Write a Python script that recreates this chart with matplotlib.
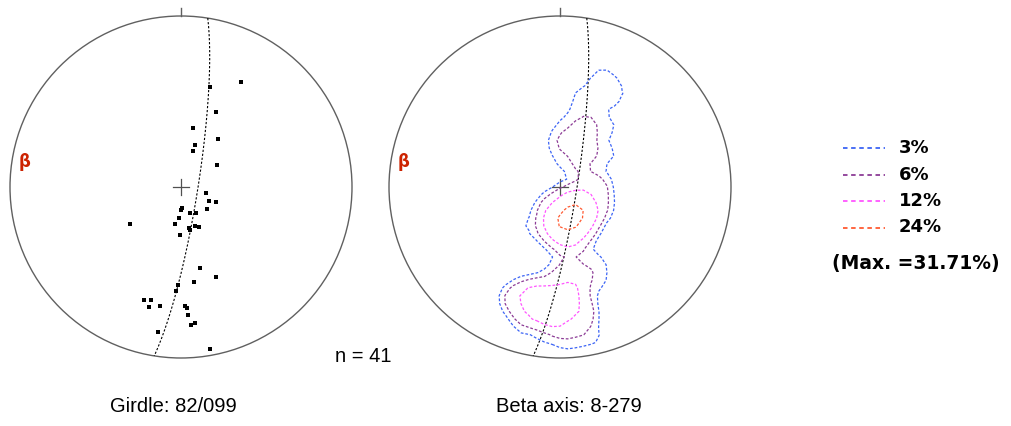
import numpy as np
import matplotlib.pyplot as plt
from matplotlib.patches import Circle

# lineations, lower hemisphere (trend / plunge in degrees)
trend = [30, 16, 25, 11, 38, 19, 18, 59, 103, 116, 113, 177, 181, 161, 150,
         130, 184, 234, 189, 169, 168, 160, 156, 181, 167, 159, 172, 182, 183,
         198, 195, 195, 190, 190, 178, 177, 177, 174, 176, 189, 170]
plunge = [30, 39, 50, 61, 61, 69, 72, 70, 78, 75, 72, 80, 79, 77, 76,
          74, 75, 60, 72, 70, 69, 70, 69, 67, 50, 43, 43, 42, 39,
          31, 32, 28, 30, 30, 31, 30, 26, 21, 20, 15, 4]

girdle_dip, girdle_dipdir = 82, 99
beta_plunge, beta_trend = 8, 279

levels = [3, 6, 12, 24]
level_labels = ['3%', '6%', '12%', '24%']
level_colors = ['#3c64f5', '#8c3c96', '#ff55ff', '#ff5a32']
max_pct = 31.71

W, H = 1011, 426
R = 171  # net radius in pixels


def project(tr, pl):
    # Schmidt (equal-area) projection
    tr = np.radians(np.asarray(tr, float))
    pl = np.radians(np.asarray(pl, float))
    r = np.sqrt(2) * np.sin((np.pi / 2 - pl) / 2)
    return r * np.sin(tr), r * np.cos(tr)


def to_vec(tr, pl):
    tr = np.radians(np.asarray(tr, float))
    pl = np.radians(np.asarray(pl, float))
    return np.stack([np.cos(pl) * np.sin(tr), np.cos(pl) * np.cos(tr), -np.sin(pl)], -1)


def great_circle(dip, dipdir):
    t = np.radians(np.linspace(0, 180, 200))
    s = np.radians(dipdir - 90)
    d = np.radians(dipdir)
    strike_v = np.array([np.sin(s), np.cos(s), 0])
    dip_v = np.array([np.cos(np.radians(dip)) * np.sin(d),
                      np.cos(np.radians(dip)) * np.cos(d),
                      -np.sin(np.radians(dip))])
    v = np.outer(np.cos(t), strike_v) + np.outer(np.sin(t), dip_v)
    tr = np.degrees(np.arctan2(v[:, 0], v[:, 1]))
    pl = np.degrees(np.arcsin(np.clip(-v[:, 2], -1, 1)))
    return project(tr, pl)


def smooth(a):
    # 1-2-1 smoothing along both grid axes
    k = np.array([0.25, 0.5, 0.25])
    a = np.pad(a, 1)
    a = k[0] * a[:-2] + k[1] * a[1:-1] + k[2] * a[2:]
    a = k[0] * a[:, :-2] + k[1] * a[:, 1:-1] + k[2] * a[:, 2:]
    return a


def make_net(cx, cy):
    m = 1.06
    ax = fig.add_axes([(cx - m * R) / W, (H - cy - m * R) / H, 2 * m * R / W, 2 * m * R / H])
    ax.set_xlim(-m, m)
    ax.set_ylim(-m, m)
    ax.set_aspect('equal')
    ax.axis('off')
    ax.add_patch(Circle((0, 0), 1, fill=False, edgecolor='#606060', lw=1.0))
    ax.plot([0, 0], [1, 1 + 8 / R], color='#606060', lw=1.0)
    c = 8 / R
    ax.plot([-c, c], [0, 0], color='#505050', lw=0.9)
    ax.plot([0, 0], [-c, c], color='#505050', lw=0.9)
    gx, gy = great_circle(girdle_dip, girdle_dipdir)
    ax.plot(gx, gy, color='black', lw=0.8, ls=(0, (2, 1.6)))
    bx, by = project(beta_trend, beta_plunge)
    ax.text(bx, by, '\u03b2', color='#cc2200', fontsize=12, fontweight='bold',
            ha='center', va='center')
    return ax


fig = plt.figure(figsize=(W / 100, H / 100), dpi=100)

# left net: data points
ax1 = make_net(181, 187)
px, py = project(trend, plunge)
ax1.scatter(px, py, marker='s', s=7, color='black', linewidths=0, zorder=3)

# right net: density contours (counting circle, % of points, lightly smoothed)
ax2 = make_net(560, 187)
g = np.linspace(-1, 1, 45)
GX, GY = np.meshgrid(g, g)
GR = np.hypot(GX, GY)
g_pl = 90 - np.degrees(2 * np.arcsin(np.clip(GR / np.sqrt(2), 0, 1)))
g_tr = np.degrees(np.arctan2(GX, GY))
gv = to_vec(g_tr, g_pl)
dv = to_vec(trend, plunge)
cos_a = 0.98
count = (np.abs(gv @ dv.T) >= cos_a).sum(-1).astype(float)
count[GR > 1] = 0
pct = smooth(100.0 * count / len(trend))
pct[GR > 1] = np.nan
ax2.contour(GX, GY, pct, levels=levels, colors=level_colors,
            linewidths=0.9, linestyles=[(0, (2.2, 1.5))])

# legend
for i, (lab, col) in enumerate(zip(level_labels, level_colors)):
    y = (H - (148 + i * 26.5)) / H
    fig.add_artist(plt.Line2D([843 / W, 885 / W], [y, y], color=col, lw=1.3,
                              ls=(0, (2.5, 2))))
    fig.text(899 / W, y, lab, fontsize=13, fontweight='bold', va='center', ha='left')
fig.text(916 / W, (H - 264) / H, '(Max. =%.2f%%)' % max_pct, fontsize=13.5,
         fontweight='bold', va='center', ha='center')

fig.text(363 / W, (H - 356) / H, 'n = %d' % len(trend), fontsize=14.5,
         family='Liberation Sans', ha='center', va='center')
fig.text(173 / W, (H - 407) / H, 'Girdle: %d/%03d' % (girdle_dip, girdle_dipdir),
         fontsize=14.5, family='Liberation Sans', ha='center', va='center')
fig.text(569 / W, (H - 407) / H, 'Beta axis: %d-%d' % (beta_plunge, beta_trend),
         fontsize=14.5, family='Liberation Sans', ha='center', va='center')

fig.savefig('out.png', dpi=100)
